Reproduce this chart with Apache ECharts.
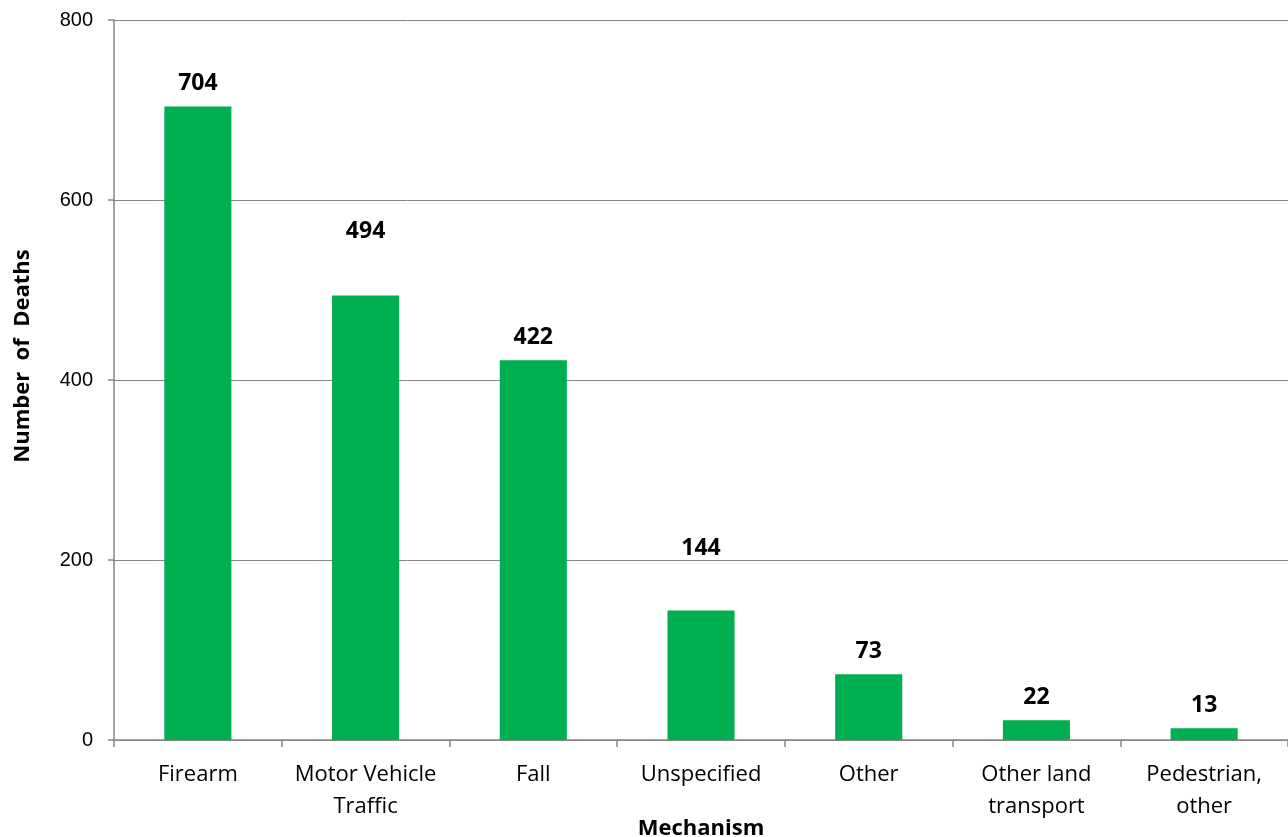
<!DOCTYPE html>
<html>
<head>
<meta charset="utf-8">
<script src="https://cdn.jsdelivr.net/npm/echarts@6/dist/echarts.min.js"></script>
<style>
  html, body { margin: 0; padding: 0; background: #fff; }
  #main { width: 1288px; height: 837px; }
</style>
</head>
<body>
<div id="main"></div>
<script>
// categories and values
var mechanisms = ['Firearm', 'Motor Vehicle\nTraffic', 'Fall', 'Unspecified', 'Other', 'Other land\ntransport', 'Pedestrian,\nother'];
var deaths = [704, 494, 422, 144, 73, 22, 13];
var yTicks = [0, 200, 400, 600, 800];

// a couple of labels sit higher in the original
var liftedLabels = { 1: 52, 3: 50 };

var myChart = echarts.init(document.getElementById('main'));
var option = {
  animation: false,
  grid: { left: 114, right: 0, top: 20, bottom: 97, containLabel: false, outerBoundsMode: 'none' },
  xAxis: {
    type: 'category',
    data: mechanisms,
    name: 'Mechanism',
    nameLocation: 'middle',
    nameGap: 78,
    nameMoveOverlap: false,
    nameTextStyle: { fontFamily: 'Open Sans', fontWeight: 'bold', fontSize: 22, color: '#000' },
    axisLine: { lineStyle: { color: '#868686', width: 1.5 } },
    axisTick: { show: true, length: 7, lineStyle: { color: '#868686', width: 1.5 } },
    axisLabel: { interval: 0, fontFamily: 'Open Sans', fontSize: 22, color: '#000', margin: 19, lineHeight: 32 }
  },
  yAxis: {
    type: 'value',
    min: yTicks[0],
    max: yTicks[yTicks.length - 1],
    interval: 200,
    name: 'Number  of  Deaths',
    nameLocation: 'middle',
    nameGap: 80,
    nameMoveOverlap: false,
    nameTextStyle: { fontFamily: 'Open Sans', fontWeight: 'bold', fontSize: 22, color: '#000', padding: [0, 0, 0, 48] },
    axisLine: { show: true, lineStyle: { color: '#868686', width: 1.5 } },
    axisTick: { show: true, length: 6, lineStyle: { color: '#868686', width: 1.5 } },
    axisLabel: { fontFamily: 'Liberation Sans', fontSize: 20, color: '#000', margin: 21 },
    splitLine: { lineStyle: { color: '#868686', width: 1 } }
  },
  series: [{
    type: 'bar',
    barWidth: '40%',
    itemStyle: { color: '#00B050' },
    label: {
      show: true,
      position: 'top',
      distance: 11,
      fontFamily: 'Open Sans',
      fontWeight: 'bold',
      fontSize: 23,
      color: '#000'
    },
    data: deaths.map(function (v, i) {
      var item = { value: v };
      if (liftedLabels[i] !== undefined) item.label = { distance: liftedLabels[i] };
      return item;
    })
  }]
};
myChart.setOption(option);
</script>
</body>
</html>
